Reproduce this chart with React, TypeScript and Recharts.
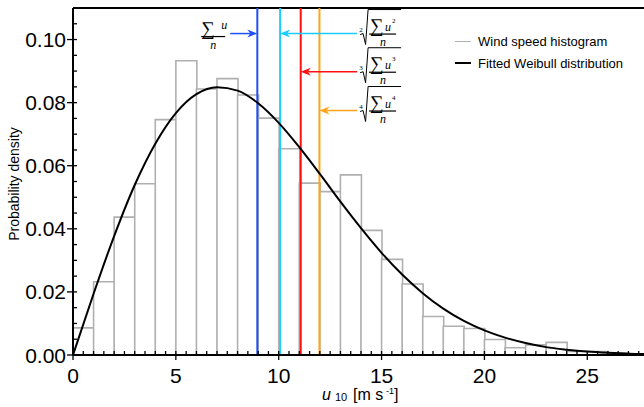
import { Bar, ComposedChart, Label, Legend, Line, ReferenceLine, XAxis, YAxis } from 'recharts';

// histogram bins, 1 m/s wide, value at the bin centre
const binCenters = [
  0.5, 1.5, 2.5, 3.5, 4.5, 5.5, 6.5, 7.5, 8.5, 9.5, 10.5, 11.5, 12.5, 13.5, 14.5, 15.5, 16.5, 17.5,
  18.5, 19.5, 20.5, 21.5, 22.5, 23.5, 24.5, 25.5, 26.5, 27.5,
];
const binDensity = [
  0.0086, 0.0232, 0.0437, 0.0543, 0.0746, 0.0933, 0.0843, 0.0876, 0.0824, 0.0751, 0.0654, 0.0545,
  0.0518, 0.0571, 0.0395, 0.0303, 0.0225, 0.0122, 0.0091, 0.0084, 0.0049, 0.0023, 0.0032, 0.004,
  0.0011, 0.0011, 0.0006, 0.0003,
];

// fitted Weibull curve
const curveU = [
  0, 1, 2, 3, 4, 5, 6, 7, 8, 9, 10, 11, 12, 13, 14, 15, 16, 17, 18, 19, 20, 21, 22, 23, 24, 25, 26,
  27, 28,
];
const curveDensity = [
  0, 0.0194, 0.0377, 0.0539, 0.067, 0.0767, 0.0827, 0.0849, 0.0838, 0.0798, 0.0736, 0.0659, 0.0574,
  0.0486, 0.0402, 0.0324, 0.0255, 0.0196, 0.0147, 0.0108, 0.0078, 0.0055, 0.0038, 0.0025, 0.0017,
  0.0011, 0.0007, 0.0004, 0.0003,
];

// characteristic speeds: mean, and 2nd/3rd/4th order root means
const markerPowers = [1, 2, 3, 4];
const markerSpeeds = [8.96, 10.07, 11.07, 11.98];
const markerColors = ['#1f4ff5', '#1ccbff', '#ff1010', '#ffa31a'];
const arrowTailU = [7.64, 13.81, 13.81, 13.81];
const arrowDensity = [0.1019, 0.1019, 0.0898, 0.0775];

const xMajorTicks = [0, 5, 10, 15, 20, 25];
const yMajorTicks = [0, 0.02, 0.04, 0.06, 0.08, 0.1];
const yTicks = [
  0, 0.005, 0.01, 0.015, 0.02, 0.025, 0.03, 0.035, 0.04, 0.045, 0.05, 0.055, 0.06, 0.065, 0.07,
  0.075, 0.08, 0.085, 0.09, 0.095, 0.1, 0.105, 0.11,
];
const X_MAX = 28;
const xTicks = Array.from({ length: X_MAX * 2 + 1 }, (_, i) => i / 2);

const histData = binCenters.map((u, i) => ({ u, density: binDensity[i] }));
const curveData = curveU.map((u, i) => ({ u, fit: curveDensity[i] }));

const CHART_W = 649;
const CHART_H = 407;
const Y_AXIS_W = 73;
const X_AXIS_H = 52;
const TOP = 8;
const SANS = '"Liberation Sans", Arial, sans-serif';
const SERIF = '"Liberation Serif", "DejaVu Serif", serif';

const isMajor = (v: number, list: number[]) => list.some((m) => Math.abs(m - v) < 1e-9);

function XTick({ x, y, payload }: any) {
  const major = isMajor(payload.value, xMajorTicks);
  return (
    <g>
      <line x1={x} x2={x} y1={y - 4} y2={major ? y + 5 : y} stroke="#000" strokeWidth={1.3} />
      {major && (
        <text x={x} y={y + 28} textAnchor="middle" fontSize={21} fontFamily={SANS} fill="#000">
          {payload.value}
        </text>
      )}
    </g>
  );
}

function YTick({ x, y, payload }: any) {
  const major = isMajor(payload.value, yMajorTicks);
  return (
    <g>
      <line x1={major ? x - 6 : x} x2={x + 4} y1={y} y2={y} stroke="#000" strokeWidth={1.3} />
      {major && (
        <text x={x - 7} y={y + 7.5} textAnchor="end" fontSize={21} fontFamily={SANS} fill="#000">
          {payload.value.toFixed(2)}
        </text>
      )}
    </g>
  );
}

function XTitle({ viewBox }: any) {
  const left = viewBox.x + 249;
  const base = viewBox.y + 45;
  return (
    <g fontFamily={SANS} fill="#000">
      <text x={left} y={base} fontSize={16} fontStyle="italic">
        u
      </text>
      <text x={left + 13} y={base + 1} fontSize={11}>
        10
      </text>
      <text x={left + 31} y={base} fontSize={16}>
        [m s
      </text>
      <text x={left + 64} y={base - 6} fontSize={9}>
        -1
      </text>
      <text x={left + 72} y={base} fontSize={16}>
        ]
      </text>
    </g>
  );
}

function YTitle() {
  return (
    <text
      x={14}
      y={184}
      transform="rotate(-90 14 184)"
      textAnchor="middle"
      dominantBaseline="central"
      fontSize={14}
      fontFamily={SANS}
      fill="#000"
    >
      Probability density
    </text>
  );
}

function MeanFormula({ x, y }: { x: number; y: number }) {
  return (
    <g fill="#000" fontFamily={SERIF}>
      <text x={x - 29} y={y + 1} fontSize={19}>
        ∑
      </text>
      <text x={x - 9} y={y - 5} fontSize={12} fontStyle="italic">
        u
      </text>
      <line x1={x - 29} x2={x - 5} y1={y + 3} y2={y + 3} stroke="#000" strokeWidth={1.2} />
      <text x={x - 17} y={y + 15} fontSize={12} fontStyle="italic" textAnchor="middle">
        n
      </text>
    </g>
  );
}

function RootFormula({ x, y, power }: { x: number; y: number; power: number }) {
  return (
    <g fill="#000" fontFamily={SERIF}>
      <text x={x + 4} y={y - 2} fontSize={7} textAnchor="middle">
        {power}
      </text>
      <path
        d={`M${x + 3},${y + 1} L${x + 6},${y} L${x + 8.5},${y + 11} L${x + 11},${y - 24} L${x + 44},${y - 24}`}
        fill="none"
        stroke="#000"
        strokeWidth={1}
      />
      <text x={x + 13} y={y - 2} fontSize={19}>
        ∑
      </text>
      <text x={x + 28} y={y - 3} fontSize={12} fontStyle="italic">
        u
      </text>
      <text x={x + 35} y={y - 11} fontSize={7}>
        {power}
      </text>
      <line x1={x + 12} x2={x + 39} y1={y + 0.5} y2={y + 0.5} stroke="#000" strokeWidth={1.2} />
      <text x={x + 26} y={y + 12} fontSize={12} fontStyle="italic" textAnchor="middle">
        n
      </text>
    </g>
  );
}

function makeArrow(color: string, power: number) {
  return (props: any) => {
    const { x1, y1, x2, y2 } = props;
    const dir = x2 > x1 ? 1 : -1;
    const head = `M${x2},${y2} L${x2 - dir * 10},${y2 - 4} L${x2 - dir * 7},${y2} L${x2 - dir * 10},${y2 + 4} Z`;
    return (
      <g>
        <line x1={x1} y1={y1} x2={x2 - dir * 7} y2={y2} stroke={color} strokeWidth={1.5} />
        <path d={head} fill={color} />
        {power === 1 ? (
          <MeanFormula x={x1} y={y1} />
        ) : (
          <RootFormula x={x1} y={y1} power={power} />
        )}
      </g>
    );
  };
}

function LegendBox() {
  const rows = [
    { label: 'Wind speed histogram', color: '#b0b0b0', w: 1.5 },
    { label: 'Fitted Weibull distribution', color: '#000', w: 2.2 },
  ];
  return (
    <div style={{ fontFamily: SANS, fontSize: 13, color: '#000' }}>
      {rows.map((r) => (
        <div key={r.label} style={{ display: 'flex', alignItems: 'center', height: 22 }}>
          <span style={{ width: 16, height: 0, borderTop: `${r.w}px solid ${r.color}`, marginRight: 7 }} />
          <span>{r.label}</span>
        </div>
      ))}
    </div>
  );
}

export default function App() {
  return (
    <div style={{ position: 'absolute', left: 0, top: 0, width: 644, height: 407, overflow: 'hidden', background: '#fff' }}>
      <ComposedChart
        width={CHART_W}
        height={CHART_H}
        data={histData}
        barCategoryGap={0}
        barGap={0}
        margin={{ top: TOP, right: 0, bottom: 0, left: 0 }}
      >
        <XAxis
          dataKey="u"
          type="number"
          domain={[0, X_MAX]}
          ticks={xTicks}
          interval={0}
          height={X_AXIS_H}
          tickSize={0}
          tickMargin={0}
          tickLine={false}
          tick={<XTick />}
          axisLine={{ stroke: '#000', strokeWidth: 2 }}
          allowDataOverflow
        >
          <Label content={<XTitle />} />
        </XAxis>
        {/* the curve gets its own (hidden) x axis so its points don't shrink the bar width */}
        <XAxis xAxisId="curve" dataKey="u" type="number" domain={[0, X_MAX]} hide allowDataOverflow />
        <YAxis
          type="number"
          domain={[0, 0.11]}
          ticks={yTicks}
          interval={0}
          width={Y_AXIS_W}
          tickSize={0}
          tickMargin={0}
          tickLine={false}
          tick={<YTick />}
          axisLine={{ stroke: '#000', strokeWidth: 2 }}
          allowDataOverflow
        >
          <Label content={<YTitle />} />
        </YAxis>
        <Legend
          layout="horizontal"
          verticalAlign="middle"
          align="center"
          wrapperStyle={{ position: 'absolute', left: 455, top: 30, width: 'auto', height: 'auto' }}
          content={() => <LegendBox />}
        />
        <Bar
          dataKey="density"
          fill="#fff"
          stroke="#b0b0b0"
          strokeWidth={1.6}
          isAnimationActive={false}
        />
        <ReferenceLine y={0.11} stroke="#000" strokeWidth={2} />
        {markerSpeeds.map((s, i) => (
          <ReferenceLine key={`v${i}`} x={s} stroke={markerColors[i]} strokeWidth={2} />
        ))}
        {markerSpeeds.map((s, i) => (
          <ReferenceLine
            key={`a${i}`}
            segment={[
              { x: arrowTailU[i], y: arrowDensity[i] },
              { x: s, y: arrowDensity[i] },
            ]}
            shape={makeArrow(markerColors[i], markerPowers[i])}
          />
        ))}
        <Line
          xAxisId="curve"
          data={curveData}
          dataKey="fit"
          type="monotone"
          stroke="#000"
          strokeWidth={2}
          dot={false}
          activeDot={false}
          isAnimationActive={false}
        />
      </ComposedChart>
    </div>
  );
}
